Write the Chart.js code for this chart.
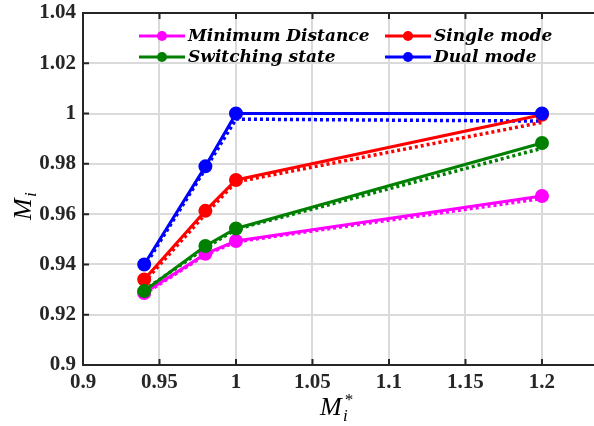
<!DOCTYPE html>
<html>
<head>
<meta charset="utf-8">
<script src="https://cdn.jsdelivr.net/npm/chart.js@4.4.0/dist/chart.umd.min.js"></script>
<style>
  html, body { margin: 0; padding: 0; background: #fff; overflow: hidden; }
  canvas { display: block; }
</style>
</head>
<body>
<canvas id="chart" width="594" height="426"></canvas>
<script>
// data
const xVals = [0.94, 0.98, 1.0, 1.2];

const minDist = [0.9286, 0.9442, 0.9493, 0.9672];
const singleMode = [0.9340, 0.9613, 0.9736, 0.9995];
const switching = [0.9294, 0.9473, 0.9543, 0.9883];
const dualMode = [0.9400, 0.9790, 1.0000, 1.0000];

// dotted companions (no markers, not in legend)
const minDistDot = [0.9282, 0.9438, 0.9490, 0.9662];
const singleModeDot = [0.9330, 0.9600, 0.9728, 0.9965];
const switchingDot = [0.9298, 0.9465, 0.9540, 0.9862];
const dualModeDot = [0.9390, 0.9780, 0.9978, 0.9970];

const xTicks = [0.9, 0.95, 1, 1.05, 1.1, 1.15, 1.2];
const yTicks = [0.9, 0.92, 0.94, 0.96, 0.98, 1, 1.02, 1.04];

const names = ['Minimum Distance', 'Single mode', 'Switching state', 'Dual mode'];
const colors = ['#ff00ff', '#ff0000', '#008000', '#0000ff'];

const pts = arr => arr.map((v, i) => ({ x: xVals[i], y: v }));
const fmt = v => String(Number(v.toFixed(2)));

// higher order is drawn first; the last plotted series (blue) ends on top
function solid(label, arr, color, order) {
  return {
    label: label,
    data: pts(arr),
    borderColor: color,
    backgroundColor: color,
    borderWidth: 3,
    pointRadius: 6,
    pointBorderWidth: 2,
    pointBackgroundColor: color,
    pointBorderColor: color,
    tension: 0,
    order: order,
  };
}

function dotted(arr, color) {
  return {
    label: '',
    data: pts(arr),
    borderColor: color,
    borderWidth: 3.5,
    borderDash: [3, 3],
    pointRadius: 0,
    tension: 0,
    order: 10,
  };
}

const axisColor = '#262626';
const gridColor = '#dadada';

// tick marks inside, top border, axis titles and the legend
const decor = {
  id: 'decor',
  afterDatasetsDraw(chart) {
    const ctx = chart.ctx;
    const a = chart.chartArea;
    const xs = chart.scales.x;
    const ys = chart.scales.y;
    ctx.save();
    ctx.strokeStyle = axisColor;
    ctx.lineWidth = 2;
    ctx.beginPath();
    ctx.moveTo(a.left, a.top);
    ctx.lineTo(a.right, a.top);
    xTicks.forEach(t => {
      const px = xs.getPixelForValue(t);
      ctx.moveTo(px, a.bottom);
      ctx.lineTo(px, a.bottom - 6);
      ctx.moveTo(px, a.top);
      ctx.lineTo(px, a.top + 6);
    });
    yTicks.forEach(t => {
      const py = ys.getPixelForValue(t);
      ctx.moveTo(a.left, py);
      ctx.lineTo(a.left + 6, py);
    });
    ctx.stroke();

    // axis titles
    ctx.fillStyle = '#000';
    ctx.textBaseline = 'alphabetic';
    ctx.save();
    ctx.translate(31, 204);
    ctx.rotate(-Math.PI / 2);
    ctx.font = 'italic 26px "Liberation Serif"';
    ctx.textAlign = 'left';
    ctx.fillText('M', -16, 0);
    ctx.font = 'italic 17px "Liberation Serif"';
    ctx.fillText('i', 7, 5);
    ctx.restore();

    ctx.font = 'italic 26px "Liberation Serif"';
    ctx.textAlign = 'left';
    ctx.fillText('M', 320, 415);
    ctx.font = 'italic 17px "Liberation Serif"';
    ctx.fillText('i', 343, 421);
    ctx.fillText('*', 344, 405);

    // legend, two columns
    const colX = [139, 385];
    const rowY = [36, 57];
    const order = [[0, 0], [1, 0], [0, 1], [1, 1]];
    ctx.font = 'italic bold 17px "DejaVu Serif"';
    ctx.textAlign = 'left';
    ctx.textBaseline = 'middle';
    names.forEach((n, i) => {
      const x0 = colX[order[i][0]];
      const y0 = rowY[order[i][1]];
      ctx.strokeStyle = colors[i];
      ctx.lineWidth = 3;
      ctx.beginPath();
      ctx.moveTo(x0, y0);
      ctx.lineTo(x0 + 46, y0);
      ctx.stroke();
      ctx.fillStyle = colors[i];
      ctx.beginPath();
      ctx.arc(x0 + 23, y0, 5, 0, Math.PI * 2);
      ctx.fill();
      ctx.fillStyle = '#000';
      ctx.fillText(n, x0 + 49, y0 + 1);
    });
    ctx.restore();
  }
};

new Chart(document.getElementById('chart'), {
  type: 'line',
  data: {
    datasets: [
      solid(names[0], minDist, colors[0], 4),
      solid(names[1], singleMode, colors[1], 3),
      solid(names[2], switching, colors[2], 2),
      solid(names[3], dualMode, colors[3], 1),
      dotted(minDistDot, colors[0]),
      dotted(singleModeDot, colors[1]),
      dotted(switchingDot, colors[2]),
      dotted(dualModeDot, colors[3]),
    ],
  },
  options: {
    responsive: false,
    animation: false,
    layout: { autoPadding: false, padding: { top: 13, right: 0, left: 0, bottom: 0 } },
    plugins: {
      legend: { display: false },
      tooltip: { enabled: false },
    },
    scales: {
      x: {
        type: 'linear',
        min: 0.9,
        max: 1.234,
        afterBuildTicks: s => { s.ticks = xTicks.map(v => ({ value: v })); },
        afterFit: s => { s.height = 61; s.paddingLeft = 0; s.paddingRight = 0; },
        ticks: {
          callback: v => fmt(v),
          color: '#262626',
          font: { family: 'Liberation Serif', weight: 'bold', size: 21 },
          padding: 5,
          maxRotation: 0,
          autoSkip: false,
        },
        grid: { color: gridColor, lineWidth: 2, drawTicks: false },
        border: { color: axisColor, width: 2 },
      },
      y: {
        min: 0.9,
        max: 1.04,
        afterBuildTicks: s => { s.ticks = yTicks.map(v => ({ value: v })); },
        afterFit: s => { s.width = 83; s.paddingTop = 0; s.paddingBottom = 0; },
        ticks: {
          callback: v => fmt(v),
          color: '#262626',
          font: { family: 'Liberation Serif', weight: 'bold', size: 21 },
          padding: 7,
          autoSkip: false,
        },
        grid: { color: gridColor, lineWidth: 2, drawTicks: false },
        border: { color: axisColor, width: 2 },
      },
    },
  },
  plugins: [decor],
});
</script>
</body>
</html>
